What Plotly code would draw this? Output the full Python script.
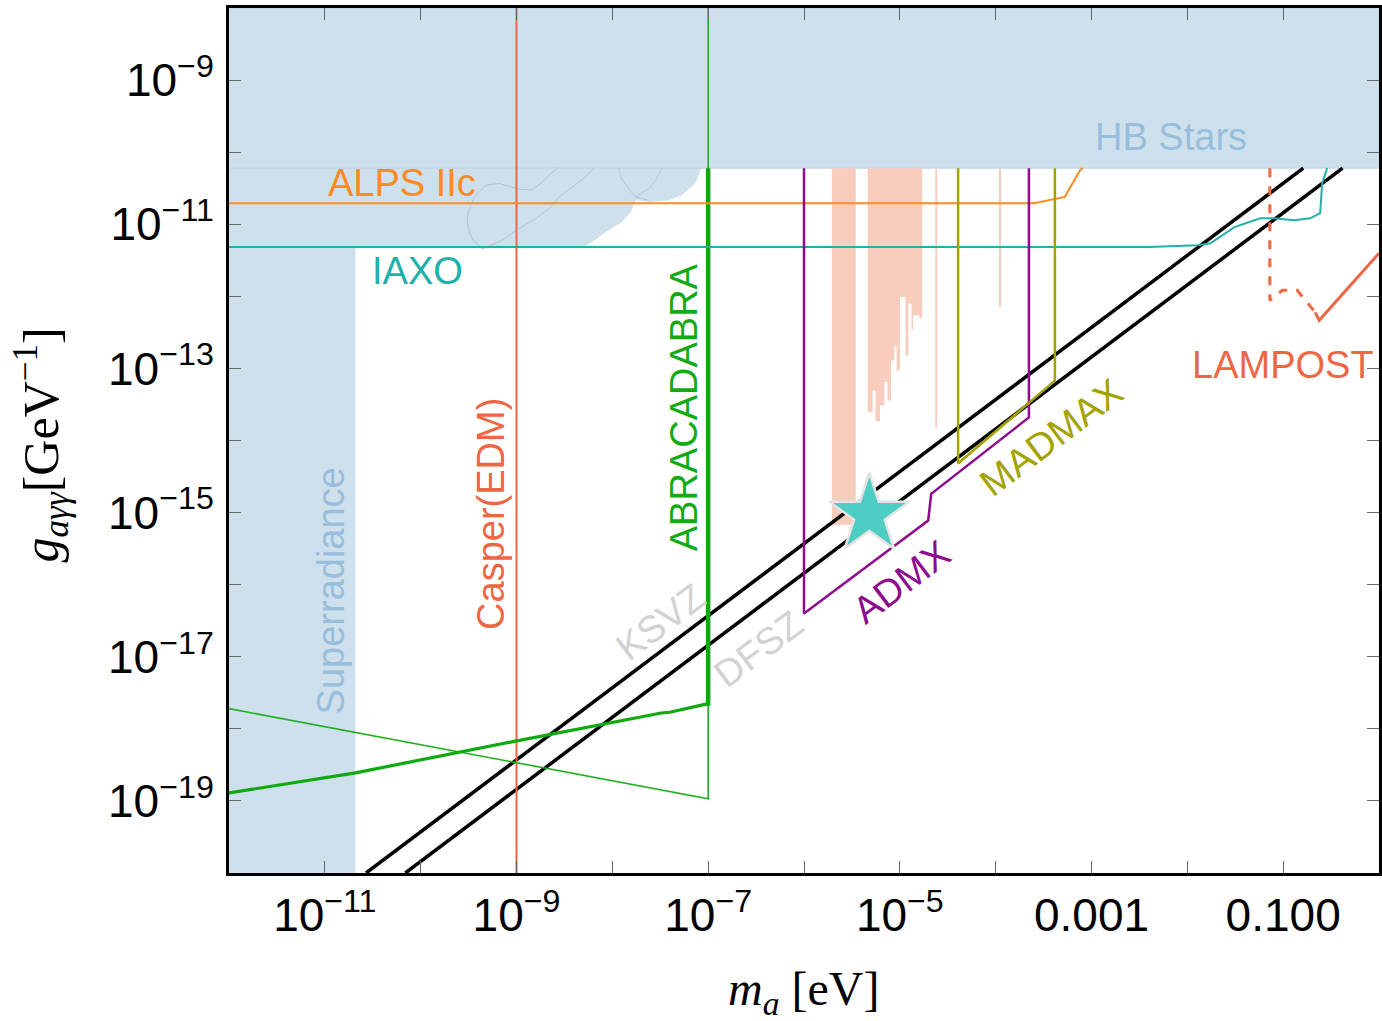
import numpy as np
import plotly.graph_objects as go

# ---------------- data (log10 values) ----------------
x_range_log = [-12, 0]
y_range_log = [-20, -8]

hb_bound_log = -10.222                    # HB stars upper bound on g
superrad_edge_log = -10.681               # superradiance excluded below this mass

blob_logm = [-10.845, -10.845, -8.316, -8.211, -8.069, -7.899, -7.808, -7.756,
             -7.618, -7.41, -7.275, -7.132, -7.08, -7.067]
blob_logg = [-10.222, -11.333, -11.333, -11.246, -11.107, -10.968, -10.829, -10.667,
             -10.69, -10.667, -10.597, -10.43, -10.25, -10.222]

contA_logm = [-9.353, -9.457, -9.509, -9.509, -9.44, -9.318, -9.179, -9.041, -8.953,
              -8.833, -8.729, -8.641, -8.573]
contA_logg = [-11.338, -11.222, -11.038, -10.851, -10.621, -10.458, -10.435, -10.49,
              -10.52, -10.52, -10.413, -10.296, -10.222]
contB_logm = [-9.353, -9.145, -9.006, -8.797, -8.659, -8.555, -8.417, -8.277, -8.191]
contB_logg = [-11.338, -11.222, -11.083, -10.921, -10.782, -10.621, -10.482, -10.343, -10.222]
contC_logm = [-7.93, -7.913, -7.844, -7.757, -7.618]
contC_logg = [-10.222, -10.343, -10.482, -10.621, -10.667]
contD_logm = [-7.757, -7.618, -7.549, -7.48]
contD_logg = [-10.621, -10.504, -10.389, -10.222]

# haloscope (pink) exclusions
bar1_logm = [-5.71, -5.46]
bar1_bottom_logg = -15.17
bar2_edges_logm = [-5.336, -5.284, -5.253, -5.207, -5.162, -5.128, -5.092, -5.058,
                   -5.034, -4.999, -4.94, -4.912, -4.878, -4.86, -4.798, -4.766]
bar2_bottoms_logg = [-13.607, -13.306, -13.732, -13.514, -13.19, -13.444, -12.889,
                     -12.681, -13.028, -12.01, -12.82, -12.10, -12.47, -12.26, -12.30]
pink_lines_logm = [-4.62, -3.955]
pink_lines_bottom_logg = [-13.82, -12.15]

# QCD axion bands
ksvz_logm = [-10.57, -0.79]
ksvz_logg = [-20.0, -10.222]
dfsz_logm = [-10.16, -0.38]
dfsz_logg = [-20.0, -10.222]

casper_logm = [-9.0, -9.0]
casper_logg = [-20.0, -8.0]

abra_thin_logm = [-12.0, -7.0, -7.0]
abra_thin_logg = [-17.72, -18.97, -8.0]
abra_thick_logm = [-12.0, -10.68, -9.01, -7.49, -7.40, -7.0]
abra_thick_logg = [-18.89, -18.61, -18.17, -17.78, -17.77, -17.65]
abra_vert_logm = [-7.0, -7.0]
abra_vert_logg = [-17.68, -10.222]

alps_logm = [-12.0, -3.6, -3.278, -3.195, -3.12, -3.09]
alps_logg = [-10.708, -10.708, -10.62, -10.43, -10.25, -10.222]

iaxo_logm = [-12.0, -2.4, -1.894, -1.759, -1.509, -1.238, -1.092, -0.884, -0.718,
             -0.614, -0.593, -0.541]
iaxo_logg = [-11.315, -11.315, -11.29, -11.264, -11.04, -10.917, -10.917, -10.944,
             -10.917, -10.847, -10.43, -10.222]

admx_logm = [-6.0, -6.0, -4.704, -4.673, -3.653, -3.653]
admx_logg = [-10.222, -16.40, -15.11, -14.74, -13.68, -10.222]

madmax_logm = [-4.392, -4.392, -3.382, -3.382]
madmax_logg = [-10.222, -14.32, -13.17, -10.222]

lampost_dash_logm = [-1.139, -1.139, -1.009, -0.853, -0.666]
lampost_dash_logg = [-10.222, -12.056, -11.917, -11.917, -12.222]
lampost_solid_logm = [-0.666, -0.624, 0.0]
lampost_solid_logg = [-12.222, -12.333, -11.403]

star_logm = [-5.318]
star_logg = [-15.03]

x_label_logs = [-11, -9, -7, -5, -3, -1]
x_label_text = ["10<sup>−11</sup>", "10<sup>−9</sup>", "10<sup>−7</sup>",
                "10<sup>−5</sup>", "0.001", "0.100"]
x_minor_logs = [-12, -10, -8, -6, -4, -2, 0]
y_label_logs = [-9, -11, -13, -15, -17, -19]
y_label_text = ["10<sup>−9</sup>", "10<sup>−11</sup>", "10<sup>−13</sup>",
                "10<sup>−15</sup>", "10<sup>−17</sup>", "10<sup>−19</sup>"]
y_minor_logs = [-20, -18, -16, -14, -12, -10, -8]

labels = [
    # text, logm, logg, color, angle
    ("HB Stars", -2.175, -9.79, "#97BEDC", 0),
    ("ALPS IIc", -10.2, -10.43, "#FF8A1E", 0),
    ("IAXO", -10.033, -11.653, "#1FB0AA", 0),
    ("Superradiance", -10.938, -16.083, "#97BEDC", -90),
    ("Casper(EDM)", -9.273, -15.014, "#EE6644", -90),
    ("ABRACADABRA", -7.244, -13.542, "#14AA14", -90),
    ("KSVZ", -7.497, -16.52, "#D2D2D2", -37),
    ("DFSZ", -6.473, -16.893, "#D2D2D2", -37),
    ("ADMX", -4.982, -15.968, "#8E0A8E", -37),
    ("MADMAX", -3.413, -13.954, "#A3A300", -37),
    ("LAMPOST", -1.0, -12.958, "#EE6644", 0),
]

# ---------------- styles ----------------
BLUE_FILL = "#CEE0EC"
PINK = "#F8CDBE"
FONT = "Liberation Sans"


def p(v):
    return 10 ** np.asarray(v, dtype=float)


fig = go.Figure()


def add_poly(lx, ly, color, line_color=None, lw=0):
    fig.add_trace(go.Scatter(x=p(lx), y=p(ly), mode="lines", fill="toself",
                             fillcolor=color,
                             line=dict(color=line_color or color, width=lw),
                             hoverinfo="skip", showlegend=False))


def add_line(lx, ly, color, width, dash="solid"):
    fig.add_trace(go.Scatter(x=p(lx), y=p(ly), mode="lines",
                             line=dict(color=color, width=width, dash=dash),
                             hoverinfo="skip", showlegend=False))


# superradiance
add_poly([x_range_log[0], superrad_edge_log, superrad_edge_log, x_range_log[0]],
         [y_range_log[0], y_range_log[0], y_range_log[1], y_range_log[1]], BLUE_FILL)
# blob
add_poly(blob_logm, blob_logg, BLUE_FILL)
# HB stars
add_poly([x_range_log[0], x_range_log[1], x_range_log[1], x_range_log[0]],
         [hb_bound_log, hb_bound_log, y_range_log[1], y_range_log[1]], BLUE_FILL,
         line_color="#BCD3E4", lw=1)
# blob contours
for cx, cy in [(contA_logm, contA_logg), (contB_logm, contB_logg),
               (contC_logm, contC_logg), (contD_logm, contD_logg)]:
    add_line(cx, cy, "#A9C8E0", 1)

# pink haloscope regions
add_poly([bar1_logm[0], bar1_logm[1], bar1_logm[1], bar1_logm[0]],
         [hb_bound_log, hb_bound_log, bar1_bottom_logg, bar1_bottom_logg], PINK)
bx, by = [bar2_edges_logm[0]], [hb_bound_log]
for i, b in enumerate(bar2_bottoms_logg):
    bx += [bar2_edges_logm[i], bar2_edges_logm[i + 1]]
    by += [b, b]
bx += [bar2_edges_logm[-1]]
by += [hb_bound_log]
add_poly(bx, by, PINK)
for lm, lb in zip(pink_lines_logm, pink_lines_bottom_logg):
    add_line([lm, lm], [hb_bound_log, lb], PINK, 2)

# QCD lines
add_line(ksvz_logm, ksvz_logg, "black", 3.5)
add_line(dfsz_logm, dfsz_logg, "black", 3.5)

# experiments
add_line(casper_logm, casper_logg, "#EE6644", 2)
add_line(abra_thin_logm, abra_thin_logg, "#1EB01E", 1.6)
add_line(abra_thick_logm, abra_thick_logg, "#0FAA0F", 3.2)
add_line(abra_vert_logm, abra_vert_logg, "#0FAA0F", 4.5)
add_line(alps_logm, alps_logg, "#FF8A1E", 2)
add_line(iaxo_logm, iaxo_logg, "#1FB0AA", 2)
add_line(admx_logm, admx_logg, "#8E0A8E", 2.5)
add_line(madmax_logm, madmax_logg, "#A3A300", 2.5)
add_line(lampost_dash_logm, lampost_dash_logg, "#EE6644", 3, dash="dash")
add_line(lampost_solid_logm, lampost_solid_logg, "#EE6644", 3)

# star
fig.add_trace(go.Scatter(x=p(star_logm), y=p(star_logg), mode="markers",
                         marker=dict(symbol="star", size=60, color="#4ECDC4",
                                     line=dict(color="#E4E4E4", width=2.5)),
                         hoverinfo="skip", showlegend=False))

for txt, lm, lg, col, ang in labels:
    fig.add_annotation(x=lm, y=lg, xref="x", yref="y", text=txt, showarrow=False,
                       textangle=ang, font=dict(family=FONT, size=38, color=col),
                       xanchor="center", yanchor="middle")

# axis titles
fig.add_annotation(x=0.4996, y=-0.137, xref="paper", yref="paper",
                   text="<i>m<sub>a</sub></i> [eV]", showarrow=False,
                   font=dict(family="Liberation Serif", size=48, color="black"),
                   xanchor="center", yanchor="middle")
fig.add_annotation(x=-0.163, y=0.495, xref="paper", yref="paper",
                   text="<i>g<sub>aγγ</sub></i>[GeV<sup>−1</sup>]", showarrow=False,
                   textangle=-90,
                   font=dict(family="Liberation Serif", size=50, color="black"),
                   xanchor="center", yanchor="middle")

axis_common = dict(showline=True, linecolor="black", linewidth=3, mirror="allticks",
                   ticks="inside", ticklen=12, tickwidth=1, tickcolor="#666666",
                   showgrid=False, zeroline=False,
                   tickfont=dict(family=FONT, size=46, color="black"))

fig.update_xaxes(type="log", range=x_range_log,
                 tickmode="array",
                 tickvals=[10 ** v for v in x_label_logs],
                 ticktext=x_label_text,
                 minor=dict(tickmode="array", tickvals=[10 ** v for v in x_minor_logs],
                            ticks="inside", ticklen=12, tickwidth=1,
                            tickcolor="#666666", showgrid=False),
                 **axis_common)
fig.update_yaxes(type="log", range=y_range_log,
                 tickmode="array",
                 tickvals=[10 ** v for v in y_label_logs],
                 ticktext=y_label_text,
                 minor=dict(tickmode="array", tickvals=[10 ** v for v in y_minor_logs],
                            ticks="inside", ticklen=12, tickwidth=1,
                            tickcolor="#666666", showgrid=False),
                 ticklabelstandoff=3,
                 **axis_common)

fig.update_layout(width=1382, height=1021,
                  margin=dict(l=229, r=0, t=8, b=148),
                  paper_bgcolor="white", plot_bgcolor="white",
                  showlegend=False)

fig.write_html("out.html",
               config={"displayModeBar": False},
               post_script="document.body.style.margin='0';"
                           "document.body.style.padding='0';"
                           "document.body.style.overflow='hidden';")
